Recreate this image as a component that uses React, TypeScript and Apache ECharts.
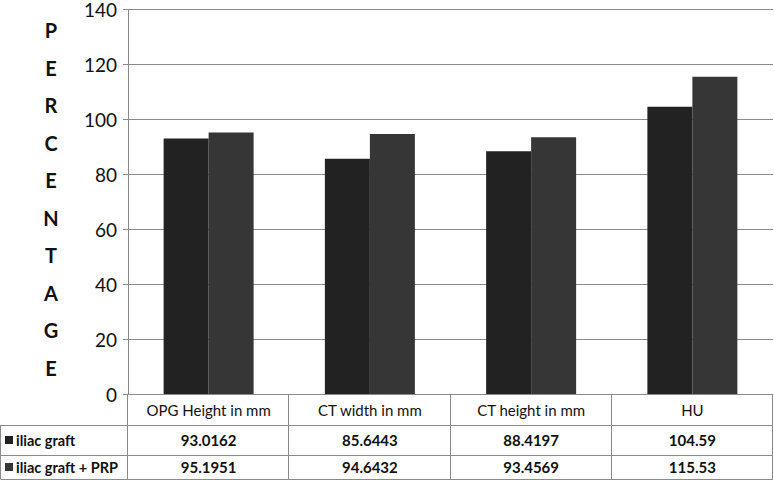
import React, { useEffect, useRef } from "react";
import * as echarts from "echarts";

const categories = ["OPG Height in mm", "CT width in mm", "CT height in mm", "HU"];
const seriesNames = ["iliac graft", "iliac graft + PRP"];
const iliacGraft = [93.0162, 85.6443, 88.4197, 104.59];
const iliacGraftPrp = [95.1951, 94.6432, 93.4569, 115.53];
const yTicks = [0, 20, 40, 60, 80, 100, 120, 140];
const axisTitle = "PERCENTAGE";
const colors = ["#222222", "#363636"];

const W = 774;
const H = 481;
const GRID_LEFT = 128;
const GRID_RIGHT = 1;
const GRID_TOP = 8;
const GRID_BOTTOM = 87;
const FONT = "Lato, 'Open Sans', sans-serif";
const LINE = "#8a8a8a";

export default function App() {
  const ref = useRef<HTMLDivElement>(null);
  useEffect(() => {
    document.body.style.margin = "0";
    const chart = echarts.init(ref.current!, null, { renderer: "svg" });
    const plotW = W - GRID_LEFT - GRID_RIGHT;
    const colW = plotW / categories.length;
    const baseY = H - GRID_BOTTOM;
    const rowTops = [baseY, baseY + 31, baseY + 61];
    const bottomY = H - 2;
    const rowCenters = [baseY + 16, baseY + 46, baseY + 73];
    const right = GRID_LEFT + plotW;

    const graphics: any[] = [];
    [rowTops[1], rowTops[2], bottomY].forEach((y) => {
      graphics.push({ type: "line", shape: { x1: 0.5, y1: y + 0.5, x2: right, y2: y + 0.5 }, style: { stroke: LINE, lineWidth: 1 } });
    });
    graphics.push({ type: "line", shape: { x1: 0.5, y1: rowTops[1], x2: 0.5, y2: bottomY }, style: { stroke: LINE, lineWidth: 1 } });
    for (let i = 0; i <= categories.length; i++) {
      const x = Math.round(GRID_LEFT + i * colW) - 0.5;
      graphics.push({ type: "line", shape: { x1: x, y1: baseY, x2: x, y2: bottomY }, style: { stroke: LINE, lineWidth: 1 } });
    }
    categories.forEach((c, i) => {
      const cx = GRID_LEFT + (i + 0.5) * colW;
      graphics.push({ type: "text", x: cx, y: rowCenters[0], style: { text: c, font: `15px ${FONT}`, fill: "#111", align: "center", verticalAlign: "middle" } });
      graphics.push({ type: "text", x: cx, y: rowCenters[1], style: { text: String(iliacGraft[i]), font: `bold 15px ${FONT}`, fill: "#111", align: "center", verticalAlign: "middle" } });
      graphics.push({ type: "text", x: cx, y: rowCenters[2], style: { text: String(iliacGraftPrp[i]), font: `bold 15px ${FONT}`, fill: "#111", align: "center", verticalAlign: "middle" } });
    });
    seriesNames.forEach((n, i) => {
      const cy = rowCenters[i + 1];
      graphics.push({ type: "rect", shape: { x: 5, y: cy - 4, width: 8, height: 8 }, style: { fill: colors[i] } });
      graphics.push({ type: "text", x: 16, y: cy, style: { text: n, font: `bold 14.5px ${FONT}`, fill: "#111", align: "left", verticalAlign: "middle" } });
    });
    axisTitle.split("").forEach((ch, i) => {
      graphics.push({ type: "text", x: 51, y: 30 + i * 37.5, style: { text: ch, font: `bold 20px ${FONT}`, fill: "#111", align: "center", verticalAlign: "middle" } });
    });

    chart.setOption({
      animation: false,
      grid: { left: GRID_LEFT, right: GRID_RIGHT, top: GRID_TOP, bottom: GRID_BOTTOM, containLabel: false },
      xAxis: {
        type: "category",
        data: categories,
        axisLine: { show: true, lineStyle: { color: LINE } },
        axisTick: { show: false },
        axisLabel: { show: false },
      },
      yAxis: {
        type: "value",
        min: 0,
        max: yTicks[yTicks.length - 1],
        interval: 20,
        axisLine: { show: true, lineStyle: { color: LINE } },
        axisTick: { show: true, length: 5, lineStyle: { color: LINE } },
        axisLabel: { fontFamily: FONT, fontSize: 19, lineHeight: 16, color: "#111", margin: 11 },
        splitLine: { show: true, lineStyle: { color: LINE, width: 1 } },
      },
      series: [
        { name: seriesNames[0], type: "bar", data: iliacGraft, barWidth: 45, barGap: "0%", itemStyle: { color: colors[0] } },
        { name: seriesNames[1], type: "bar", data: iliacGraftPrp, barWidth: 45, barGap: "0%", itemStyle: { color: colors[1] } },
      ],
      graphic: graphics,
    });
    return () => chart.dispose();
  }, []);
  return <div ref={ref} style={{ width: W, height: H }} />;
}
